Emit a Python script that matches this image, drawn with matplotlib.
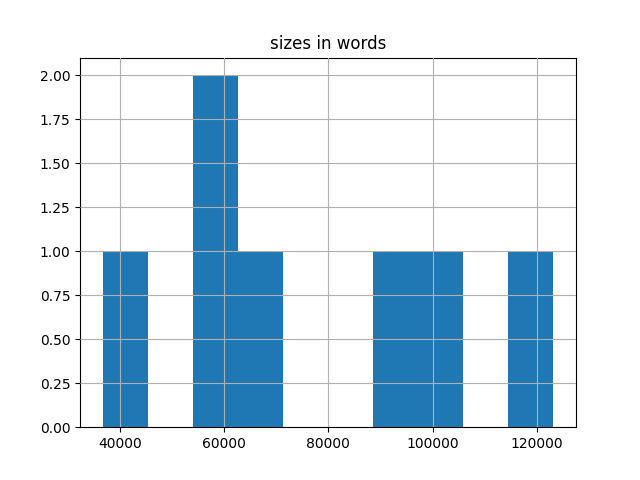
import matplotlib
matplotlib.use("Agg")
import matplotlib.pyplot as plt

# book sizes in words
sizes = [36700, 57500, 60500, 66000, 92000, 101000, 123200]

fig, ax = plt.subplots(figsize=(6.4, 4.8), dpi=100)
ax.hist(sizes, bins=10, color="#1f77b4")
ax.grid(True)
ax.set_axisbelow(False)
ax.set_title("sizes in words")

fig.savefig("out.png")
